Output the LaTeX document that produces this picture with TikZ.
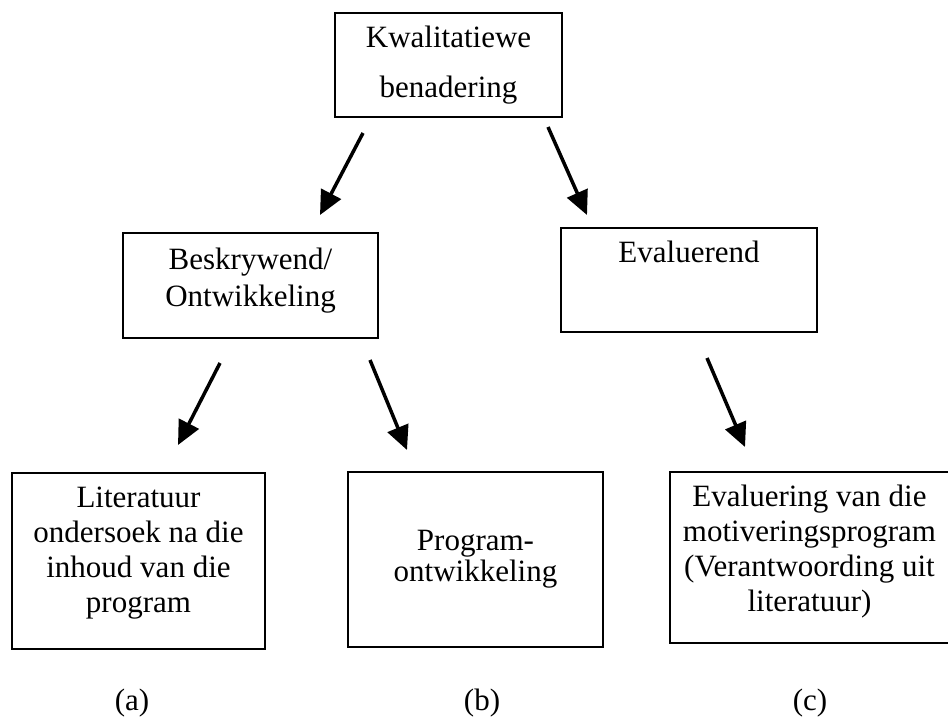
\documentclass[tikz,border=0pt]{standalone}
\usepackage{fontspec}
\setmainfont{Liberation Serif}
\usetikzlibrary{arrows.meta}
\newcommand{\xdp}[1]{\vrule width 0pt height 0pt depth #1\relax}
\tikzset{
  box/.style={draw=black, line width=2pt, rectangle, inner sep=0pt, align=center},
  arr/.style={line width=3.5pt, -{Triangle[length=24pt,width=22pt]}},
  lbl/.style={inner sep=0pt}
}
\begin{document}
\begin{tikzpicture}[x=1pt, y=-1pt, font=\fontsize{31pt}{35pt}\selectfont]
\useasboundingbox[fill=white] (0,0) rectangle (948,720);

% boxes
\node[box, minimum width=227pt, minimum height=104pt] (top) at (448.5,65)
  {Kwalitatiewe\\[15pt]benadering};
\node[box, minimum width=255pt, minimum height=105pt] (besk) at (250.5,285.5)
  {Beskrywend/\\[2pt]Ontwikkeling\xdp{17.5pt}};
\node[box, minimum width=256pt, minimum height=104pt] (eval) at (689,280)
  {Evaluerend\xdp{57pt}};
\node[box, minimum width=253pt, minimum height=176pt] (lit) at (138.5,561)
  {Literatuur\\ondersoek na die\\inhoud van die\\program\xdp{23pt}};
\node[box, minimum width=255pt, minimum height=175pt] (prog) at (475.5,559.5)
  {Program-\\[-4pt]ontwikkeling};
\node[box, minimum width=279pt, minimum height=171pt] (evm) at (809.5,557.5)
  {Evaluering van die\\motiveringsprogram\\(Verantwoording uit\\literatuur)\xdp{18.5pt}};

% labels
\node[lbl] (la) at (132,703) {(a)};
\node[lbl] (lb) at (482,703) {(b)};
\node[lbl] (lc) at (810,703) {(c)};

% arrow end points
\coordinate (s1) at (363,133); \coordinate (e1) at (320,215);
\coordinate (s2) at (548,127); \coordinate (e2) at (587,215);
\coordinate (s3) at (220,363); \coordinate (e3) at (178,445);
\coordinate (s4) at (370,360); \coordinate (e4) at (407,450);
\coordinate (s5) at (707,358); \coordinate (e5) at (745,447);

\draw[arr] (s1) -- (e1);
\draw[arr] (s2) -- (e2);
\draw[arr] (s3) -- (e3);
\draw[arr] (s4) -- (e4);
\draw[arr] (s5) -- (e5);
\end{tikzpicture}
\end{document}
